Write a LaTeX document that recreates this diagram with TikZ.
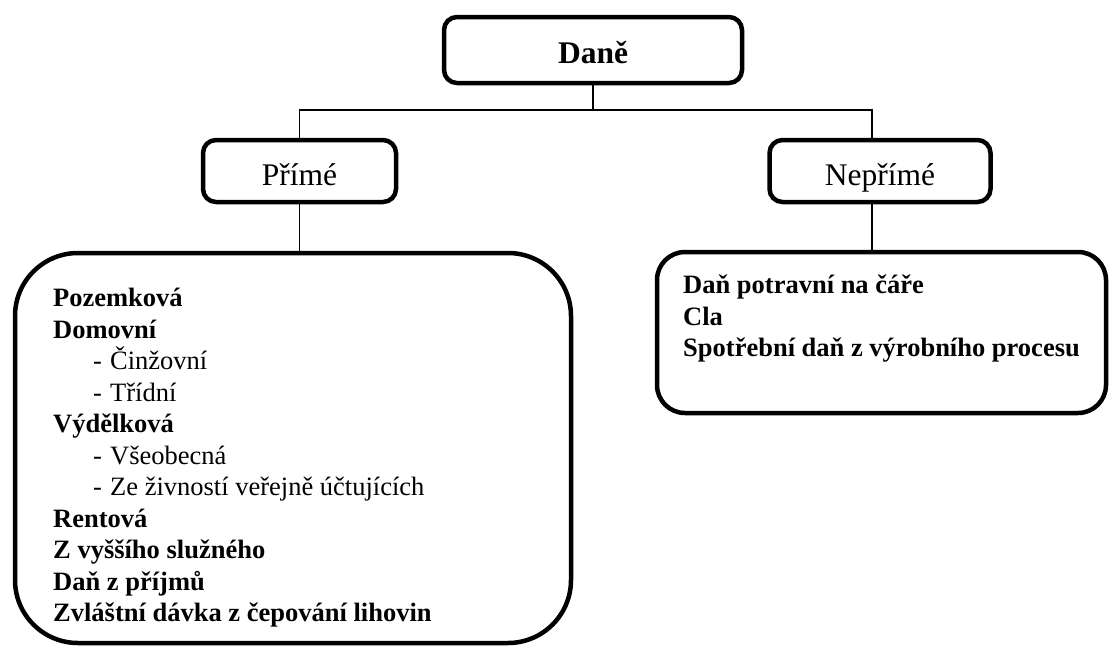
\documentclass[tikz,border=0pt]{standalone}
\usepackage{fontspec}
\setmainfont{Liberation Serif}
\usetikzlibrary{positioning}

\begin{document}
\begin{tikzpicture}[x=1pt,y=-1pt,
  head/.style={draw,line width=4.5pt,rounded corners=13pt,minimum height=62pt,inner sep=0pt,text height=28pt,text depth=0pt,font=\fontsize{31.5}{36}\selectfont},
  listbox/.style={draw,line width=4.5pt,inner sep=0pt},
  items/.style={font=\fontsize{26.5}{31.5}\selectfont\bfseries,align=left,anchor=north west,inner sep=0pt},
  link/.style={line width=1.5pt}]
\useasboundingbox (0,0) rectangle (1110,648);
\node[head,minimum width=298pt,minimum height=66pt,text height=26pt,font=\fontsize{31.5}{36}\selectfont\bfseries] (dane) at (593,50) {Daně};
\node[head,minimum width=193pt] (prime) at (299.5,171) {Přímé};
\node[head,minimum width=221pt] (neprime) at (880,171) {Nepřímé};
\node[listbox,rounded corners=63pt,minimum width=556pt,minimum height=390pt] (primelist) at (293,448) {};
\node[listbox,rounded corners=28pt,minimum width=449pt,minimum height=161pt] (neprimelist) at (881.5,332.5) {};
\coordinate (fork) at (593,110);
\coordinate (nfork) at (872,110);
% spojnice
\draw[link] (dane.south) -- (fork);
\draw[link] (fork) -| (prime.north);
\draw[link] (fork) -- (nfork) -- (nfork |- neprime.north);
\draw[link] (prime.south) -- (prime.south |- primelist.north);
\draw[link] (neprime.south -| nfork) -- (nfork |- neprimelist.north);
% obsah
\node[items] (primeitems) at (53,288) {Pozemková\\
Domovní\\
{\mdseries\hspace*{40pt}\makebox[17pt][l]{-}Činžovní}\\
{\mdseries\hspace*{40pt}\makebox[17pt][l]{-}Třídní}\\
Výdělková\\
{\mdseries\hspace*{40pt}\makebox[17pt][l]{-}Všeobecná}\\
{\mdseries\hspace*{40pt}\makebox[17pt][l]{-}Ze živností veřejně účtujících}\\
Rentová\\
Z vyššího služného\\
Daň z příjmů\\
Zvláštní dávka z čepování lihovin};
\node[items] (neprimeitems) at (683,275) {Daň potravní na čáře\\
Cla\\
Spotřební daň z výrobního procesu};
\end{tikzpicture}
\end{document}
